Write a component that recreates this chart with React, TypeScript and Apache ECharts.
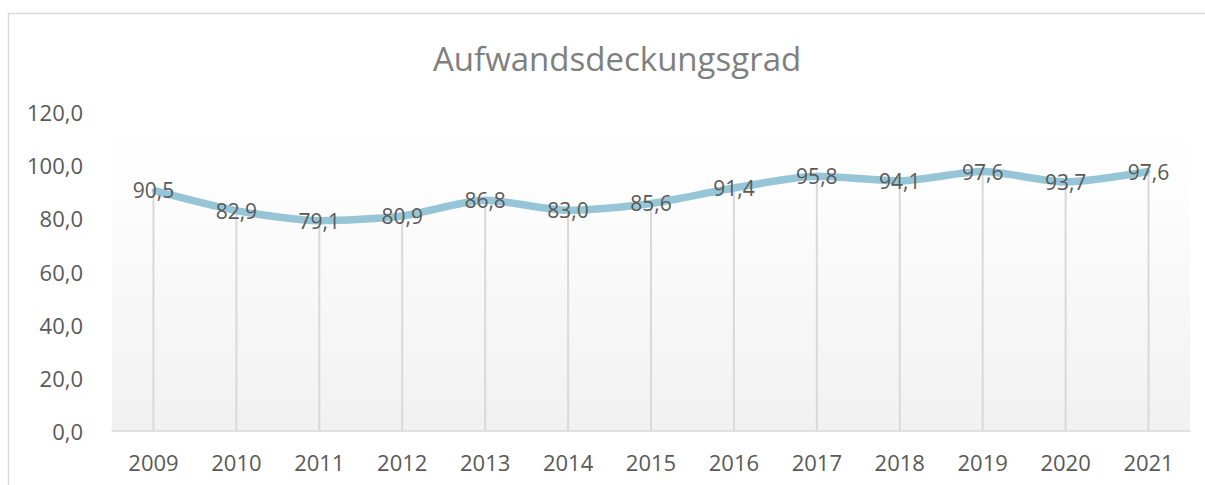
import React, { useEffect, useRef } from "react";
import * as echarts from "echarts";

const years = ["2009", "2010", "2011", "2012", "2013", "2014", "2015", "2016", "2017", "2018", "2019", "2020", "2021"];
const values = [90.5, 82.9, 79.1, 80.9, 86.8, 83.0, 85.6, 91.4, 95.8, 94.1, 97.6, 93.7, 97.6];
const titleText = "Aufwandsdeckungsgrad";

const fmt = (v: number) => v.toFixed(1).replace(".", ",");

export default function App() {
  const ref = useRef<HTMLDivElement>(null);
  useEffect(() => {
    if (!ref.current) return;
    const chart = echarts.init(ref.current, null, { renderer: "svg" });
    const font = "'Open Sans', 'Noto Sans', sans-serif";
    chart.setOption({
      animation: false,
      backgroundColor: "#ffffff",
      title: {
        text: titleText,
        left: 428,
        top: 37,
        textStyle: { fontFamily: font, fontSize: 33, fontWeight: "normal", color: "#7f7f7f" },
      },
      graphic: [
        {
          type: "rect",
          shape: { x: 8.5, y: 13.5, width: 1300, height: 600 },
          style: { fill: "none", stroke: "#d9d9d9", lineWidth: 1.5 },
          silent: true,
          z: -1,
        },
      ],
      grid: {
        left: 112,
        right: 15,
        top: 112,
        bottom: 54,
        show: true,
        borderWidth: 0,
        backgroundColor: new echarts.graphic.LinearGradient(0, 0, 0, 1, [
          { offset: 0, color: "#ffffff" },
          { offset: 0.2, color: "#fefefe" },
          { offset: 1, color: "#f1f1f1" },
        ]),
      },
      xAxis: {
        type: "category",
        data: years,
        boundaryGap: true,
        axisLine: { show: true, lineStyle: { color: "#d9d9d9", width: 1.5 } },
        axisTick: { show: false },
        axisLabel: { fontFamily: font, fontSize: 22, color: "#595959", margin: 20 },
        splitLine: { show: false },
      },
      yAxis: {
        type: "value",
        min: 0,
        max: 120,
        interval: 20,
        axisLine: { show: false },
        axisTick: { show: false },
        splitLine: { show: false },
        axisLabel: {
          fontFamily: font,
          fontSize: 22,
          color: "#595959",
          margin: 29,
          formatter: (v: number) => fmt(v),
        },
      },
      series: [
        {
          type: "bar",
          data: values,
          barWidth: 2,
          itemStyle: { color: "#d9d9d9" },
          silent: true,
          z: 1,
        },
        {
          type: "line",
          data: values,
          smooth: 0.25,
          symbol: "circle",
          symbolSize: 4,
          itemStyle: { color: "#96c5d7" },
          lineStyle: { color: "#96c5d7", width: 7.5 },
          z: 3,
          label: {
            show: true,
            position: "inside",
            fontFamily: font,
            fontSize: 21,
            color: "#595959",
            formatter: (p: any) => fmt(p.value),
          },
        },
      ],
    });
    return () => chart.dispose();
  }, []);
  return (
    <div
      ref={ref}
      style={{ position: "absolute", left: 0, top: 0, width: 1205, height: 485 }}
    />
  );
}
